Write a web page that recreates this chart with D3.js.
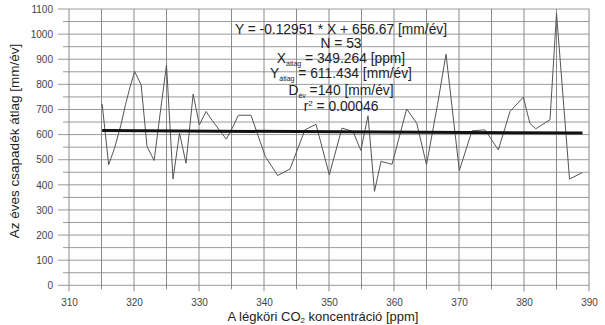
<!DOCTYPE html>
<html>
<head>
<meta charset="utf-8">
<script src="https://cdn.jsdelivr.net/npm/d3@7"></script>
<style>
    body { margin: 0; background: #fff; }
    text { font-family: "Liberation Sans", Arial, sans-serif; }
</style>
</head>
<body>
<div id="chart"></div>
<script>
// CO2 concentration [ppm] and annual precipitation [mm/év]
const co2 = [315.1, 316.1, 317.0, 318.0, 318.7, 319.4, 320.1, 321.1, 322.0, 323.1,
    324.0, 325.0, 326.0, 327.0, 328.0, 329.1, 330.05, 331.1, 332.0, 334.2,
    335.2, 336.05, 338.0, 340.2, 342.1, 344.0, 346.3, 348.0, 350.05, 352.0,
    353.7, 354.9, 356.0, 357.0, 358.0, 359.7, 361.95, 363.5, 365.0, 366.7,
    368.0, 370.05, 372.0, 374.0, 376.05, 377.85, 379.9, 380.9, 381.8, 384.0,
    385.0, 387.0, 389.0];
const csapadek = [722, 480, 545, 640, 720, 790, 851, 798, 553, 497,
    680, 877, 423, 606, 486, 761, 639, 692, 657, 582,
    630, 677, 677, 513, 437, 463, 619, 641, 440, 626,
    612, 537, 675, 374, 493, 482, 702, 645, 480, 720,
    920, 457, 615, 619, 539, 692, 749, 645, 623, 659,
    1083, 423, 449];

// regression from the label
const slope = -0.12951;
const intercept = 656.67;

const xTicks = d3.range(310, 391, 10);
const yTicks = d3.range(0, 1101, 100);

const margin = { top: 9, left: 69 };
const width = 520, height = 276.3;

const svg = d3.select("#chart").append("svg")
    .attr("width", 605)
    .attr("height", 325);

const g = svg.append("g")
    .attr("transform", `translate(${margin.left}, ${margin.top})`);

const x = d3.scaleLinear().domain([310, 390]).range([0, width]);
const y = d3.scaleLinear().domain([0, 1100]).range([height, 0]);

// grid - every 50 horizontally, every 5 vertically
g.selectAll(".hgrid")
    .data(d3.range(0, 1101, 50))
    .enter().append("line")
    .attr("x1", d => d % 100 === 0 ? -11 : -6)
    .attr("x2", width)
    .attr("y1", d => y(d))
    .attr("y2", d => y(d))
    .attr("stroke", "#9a9a9a")
    .attr("stroke-width", 1);

g.selectAll(".vgrid")
    .data(d3.range(310, 391, 5))
    .enter().append("line")
    .attr("x1", d => x(d))
    .attr("x2", d => x(d))
    .attr("y1", 0)
    .attr("y2", d => d % 10 === 0 ? height + 6 : height + 4)
    .attr("stroke", "#8a8a8a")
    .attr("stroke-width", 1);

// axes labels
const xAxis = d3.axisBottom(x).tickValues(xTicks).tickSize(0).tickPadding(14).tickFormat(d3.format("d"));
const yAxis = d3.axisLeft(y).tickValues(yTicks).tickSize(0).tickPadding(16).tickFormat(d3.format("d"));

g.append("g")
    .attr("transform", `translate(0, ${height})`)
    .call(xAxis)
    .call(s => s.select(".domain").remove())
    .selectAll("text")
    .attr("font-size", 10)
    .attr("fill", "#444");

g.append("g")
    .call(yAxis)
    .call(s => s.select(".domain").remove())
    .selectAll("text")
    .attr("font-size", 10)
    .attr("fill", "#444");

// data line
const pts = co2.map((c, i) => [c, csapadek[i]]);
g.append("path")
    .datum(pts)
    .attr("fill", "none")
    .attr("stroke", "#555")
    .attr("stroke-width", 1)
    .attr("d", d3.line().x(d => x(d[0])).y(d => y(d[1])));

// regression line
const xr = d3.extent(co2);
g.append("line")
    .attr("x1", x(xr[0]))
    .attr("x2", x(xr[1]))
    .attr("y1", y(slope * xr[0] + intercept))
    .attr("y2", y(slope * xr[1] + intercept))
    .attr("stroke", "#111")
    .attr("stroke-width", 3);

// statistics block
const info = [
    { main: "Y = -0.12951 * X + 656.67 [mm/év]", yy: 34 },
    { main: "N = 53", yy: 48 },
    { pre: "X", sub: "átlag", post: " = 349.264 [ppm]", yy: 63 },
    { pre: "Y", sub: "átlag", post: " = 611.434 [mm/év]", yy: 78 },
    { pre: "D", sub: "év", post: " =140 [mm/év]", yy: 95 },
    { pre: "r", sup: "2", post: " = 0.00046", yy: 111 }
];

info.forEach(r => {
    const t = svg.append("text")
        .attr("x", 341)
        .attr("y", r.yy)
        .attr("text-anchor", "middle")
        .attr("font-size", 13.8)
        .attr("fill", "#222");
    if (r.main) {
        t.text(r.main);
        return;
    }
    t.append("tspan").text(r.pre);
    if (r.sub) {
        t.append("tspan").text(r.sub).attr("font-size", 7).attr("dy", 3);
        t.append("tspan").text(r.post).attr("dy", -3);
    } else {
        t.append("tspan").text(r.sup).attr("font-size", 8).attr("dy", -5);
        t.append("tspan").text(r.post).attr("dy", 5);
    }
});

// axis titles
svg.append("text")
    .attr("transform", "translate(19, 141) rotate(-90)")
    .attr("text-anchor", "middle")
    .attr("font-size", 13.5)
    .attr("fill", "#222")
    .text("Az éves csapadék átlag [mm/év]");

const xt = svg.append("text")
    .attr("x", 323)
    .attr("y", 321)
    .attr("text-anchor", "middle")
    .attr("font-size", 13)
    .attr("fill", "#222");
xt.append("tspan").text("A légköri CO");
xt.append("tspan").text("2").attr("font-size", 8).attr("dy", 2);
xt.append("tspan").text(" koncentráció [ppm]").attr("dy", -2);
</script>
</body>
</html>
